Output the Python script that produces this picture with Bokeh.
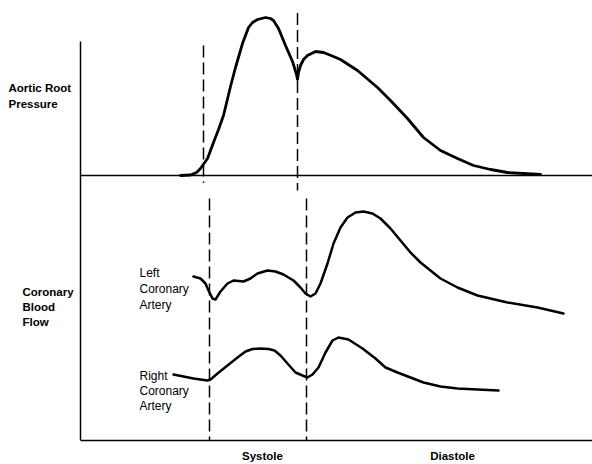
from bokeh.plotting import figure
from bokeh.models import Range1d, FixedTicker
from bokeh.core.properties import value
from bokeh.embed import file_html
from bokeh.resources import INLINE

# ---- data (time in ms, pressure in mmHg above diastolic baseline, flow in arbitrary units)
pressure_t = [200, 220, 232, 240, 254, 266, 276, 286, 300, 310, 324, 336, 344, 354, 370, 380,
              386, 396, 410, 424, 432, 434, 436, 440, 446, 454, 470, 486, 506, 520, 554, 594,
              620, 654, 686, 720, 754, 786, 820, 854, 886, 920]
pressure_v = [0, 0.4, 2.4, 5.6, 13.6, 26.4, 36.8, 48, 71.2, 86.4, 105.6, 118.4, 122.4, 124.8,
              126.4, 125.6, 124, 117.6, 104, 91.2, 80.8, 76.8, 82.4, 88, 92.8, 96, 99.2, 98.4,
              95.2, 92.8, 84, 70.4, 60, 45.6, 30.4, 20, 13.6, 8, 4.8, 2.4, 1.6, 0.8]

lca_t = [226, 240, 250, 256, 264, 270, 280, 294, 306, 326, 340, 354, 374, 390, 406, 426, 440,
         450, 460, 470, 480, 494, 506, 520, 534, 550, 566, 584, 600, 620, 640, 660, 680, 700,
         720, 754, 794, 854, 914, 966]
lca_v = [82, 81, 78.5, 75, 71, 70.5, 74.5, 78.5, 80, 79.5, 81, 83.5, 85, 84.5, 83, 80, 76.5,
         73.5, 72, 73.5, 78.5, 88.5, 98.5, 106.5, 111.5, 114, 114.5, 113.5, 111, 106, 100, 94,
         89, 85, 81, 76.5, 72.5, 69, 66.5, 63.5]

rca_t = [186, 226, 254, 260, 274, 294, 314, 330, 344, 360, 376, 388, 400, 414, 430, 444, 454,
         464, 476, 490, 504, 516, 536, 564, 590, 610, 634, 660, 686, 720, 754, 794, 836]
rca_v = [33, 31, 30, 30.5, 33.5, 37.5, 41.5, 44.5, 45.75, 46, 45.75, 45, 42.5, 38.5, 34, 32.5,
         31.5, 33, 36.5, 44, 50, 51.5, 50.5, 46, 41, 36.5, 34, 31.5, 29, 27, 26, 25.5, 25]

# aortic valve opening / closing as seen on each trace
valve_t_pressure = [246, 434]
valve_t_flow = [258, 452]
phase_names = ["Systole", "Diastole"]
phase_centers = [364.0, 744.0]
time_end = 1024

FONT = "Liberation Sans"

p = figure(width=592, height=464, x_range=Range1d(-160, time_end), y_range=Range1d(0, 220),
           output_backend="svg", toolbar_location=None,
           min_border_left=0, min_border_right=0, min_border_top=0, min_border_bottom=24)
p.extra_y_ranges = {"pressure": Range1d(-212, 140)}
p.xgrid.visible = False
p.ygrid.visible = False
p.outline_line_color = None
p.background_fill_color = "white"
p.border_fill_color = "white"

# bottom axis: time with phase names
xa = p.xaxis[0]
xa.ticker = FixedTicker(ticks=phase_centers)
xa.major_label_overrides = {c: n for c, n in zip(phase_centers, phase_names)}
xa.bounds = (0, time_end)
xa.major_tick_out = 0
xa.major_tick_in = 0
xa.minor_tick_out = 0
xa.minor_tick_in = 0
xa.axis_line_width = 1.5
xa.axis_line_color = "black"
xa.major_label_text_font = FONT
xa.major_label_text_font_style = "bold"
xa.major_label_text_font_size = "11.5px"
xa.major_label_text_color = "black"
xa.major_label_standoff = 9

# vertical axis drawn at time zero
ya = p.yaxis[0]
ya.fixed_location = 0
ya.ticker = FixedTicker(ticks=[])
ya.major_label_text_font_size = "0px"
ya.major_tick_out = 0
ya.major_tick_in = 0
ya.minor_tick_out = 0
ya.minor_tick_in = 0
ya.axis_line_width = 1.5
ya.axis_line_color = "black"
ya.bounds = (0, 199.5)

# pressure baseline (zero of the pressure trace)
p.segment(x0=[0], y0=[0], x1=[time_end], y1=[0], y_range_name="pressure",
          line_color="black", line_width=1.5)

# curves
p.line(pressure_t, pressure_v, y_range_name="pressure", line_color="black", line_width=2.8,
       line_join="round", line_cap="round")
p.line(lca_t, lca_v, line_color="black", line_width=2.5, line_join="round", line_cap="round")
p.line(rca_t, rca_v, line_color="black", line_width=2.5, line_join="round", line_cap="round")

# dashed event markers
p.segment(x0=valve_t_pressure, y0=[104, 130], x1=valve_t_pressure, y1=[-6, -12],
          y_range_name="pressure", line_color="black", line_width=1.5, line_dash="12 5")
p.segment(x0=valve_t_flow, y0=[121, 121], x1=valve_t_flow, y1=[-1, 0],
          line_color="black", line_width=1.5, line_dash="12 5")

# inline curve labels
p.text(x=[118, 118, 118], y=[84, 76, 68], text=["Left", "Coronary", "Artery"],
       text_font=value(FONT), text_font_size="12px", text_baseline="middle", text_align="left",
       text_color="black")
p.text(x=[118, 118, 118], y=[32.5, 25, 17.5], text=["Right", "Coronary", "Artery"],
       text_font=value(FONT), text_font_size="12px", text_baseline="middle", text_align="left",
       text_color="black")

# panel titles
p.text(x=[-144, -144], y=[70.4, 57.6], text=["Aortic Root", "Pressure"], y_range_name="pressure",
       text_font=value(FONT), text_font_style="bold", text_font_size="11.5px",
       text_baseline="middle", text_align="left", text_color="black")
p.text(x=[-116, -116, -116], y=[74.5, 66.75, 59.25], text=["Coronary", "Blood", "Flow"],
       text_font=value(FONT), text_font_style="bold", text_font_size="11.5px",
       text_baseline="middle", text_align="left", text_color="black")

open("out.html", "w").write(file_html(p, INLINE))
